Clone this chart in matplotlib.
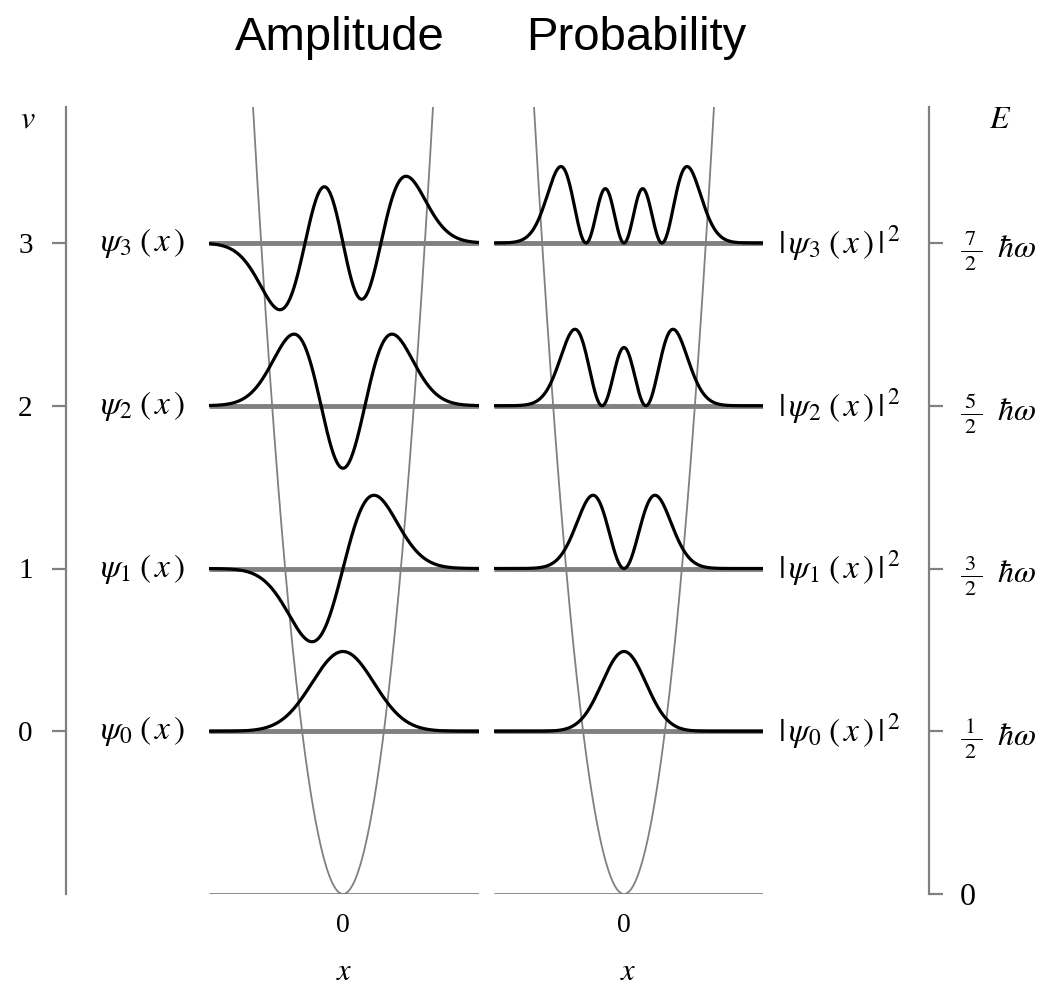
import numpy as np
import matplotlib
matplotlib.use("Agg")
import matplotlib.pyplot as plt
from matplotlib.transforms import blended_transform_factory
from numpy.polynomial.hermite import hermval

# quantum numbers and labels
levels = [0, 1, 2, 3]
energy_num = [1, 3, 5, 7]
# peak heights (in units of level spacing)
amp_peaks = [0.49, 0.45, 0.44, 0.41]
prob_peaks = [0.49, 0.45, 0.47, 0.47]
# parabola half-width at the first level (oscillator units)
well_width = 1.32

W, H = 1047, 989
GRAY = "#808080"
PX_X = 31.0      # pixels per oscillator unit
PX_Y = 162.75    # pixels per level
Y_BASE, Y_TOP = 894, 107

plt.rcParams["mathtext.fontset"] = "stix"
plt.rcParams["font.family"] = ["Liberation Serif", "DejaVu Serif"]


def box(x0, x1):
    return [x0 / W, 1 - Y_BASE / H, (x1 - x0) / W, (Y_BASE - Y_TOP) / H]


def psi(n, x):
    c = np.zeros(n + 1)
    c[n] = 1
    return hermval(x, c) * np.exp(-x ** 2 / 2)


def draw_panel(ax, squared, peaks):
    x0, x1 = ax.get_xlim()
    x = np.linspace(x0, x1, 600)
    ytop = ax.get_ylim()[1]
    xp = np.linspace(-well_width * np.sqrt(ytop), well_width * np.sqrt(ytop), 400)
    ax.plot(xp, (xp / well_width) ** 2, color=GRAY, lw=1.3, zorder=1)
    ax.hlines(0, x0, x1, color=GRAY, lw=2.0, zorder=2)
    for n, pk in zip(levels, peaks):
        f = psi(n, x)
        if squared:
            f = f ** 2
        f = f / np.abs(f).max() * pk
        ax.hlines(n + 1, x0, x1, color=GRAY, lw=3.5, zorder=2)
        ax.plot(x, n + 1 + f, color="black", lw=2.3, zorder=3)
    ax.set_xticks([0])
    ax.set_xticklabels(["0"], fontsize=20)
    ax.tick_params(axis="x", length=0, pad=14)
    ax.set_xlabel("$x$", fontsize=22, labelpad=14)
    ax.set_yticks([])
    for s in ax.spines.values():
        s.set_visible(False)
    ax.patch.set_alpha(0)


def main():
    fig = plt.figure(figsize=(W / 100, H / 100), dpi=100)
    ymax = (Y_BASE - Y_TOP) / PX_Y

    # frame with the v axis (left) and E axis (right)
    fr = fig.add_axes(box(66, 929))
    fr.set_ylim(0, ymax)
    fr.set_xticks([])
    for k in ["top", "bottom"]:
        fr.spines[k].set_visible(False)
    for k in ["left", "right"]:
        fr.spines[k].set_color(GRAY)
        fr.spines[k].set_linewidth(1.6)
    fr.set_yticks([v + 1 for v in levels])
    fr.set_yticklabels([str(v) for v in levels], fontsize=21)
    fr.tick_params(axis="y", direction="out", length=10, width=1.6,
                   color=GRAY, pad=14)

    rt = fr.twinx()
    rt.set_ylim(0, ymax)
    for s in rt.spines.values():
        s.set_visible(False)
    rt.set_yticks([0] + [v + 1 for v in levels])
    rt.set_yticklabels(["0"] + [r"$\frac{\;%d\;}{\;2\;}\;\;\hbar\omega$" % e
                                for e in energy_num], fontsize=23)
    rt.tick_params(axis="y", direction="out", length=10, width=1.6,
                   color=GRAY, pad=12)

    tr = blended_transform_factory(fr.transAxes, fr.transData)
    for v in levels:
        fr.text(0.089, v + 1, r"$\psi_{%d}\;(\,x\,)$" % v, transform=tr,
                ha="center", va="center", fontsize=24)
        fr.text(0.825, v + 1, r"$|\,\psi_{%d}\;(\,x\,)\,|^{\,2}$" % v, transform=tr,
                ha="left", va="center", fontsize=24)

    fig.text(28 / W, 1 - 120 / H, "$v$", ha="center", va="center", fontsize=23)
    fig.text(1000 / W, 1 - 120 / H, "$E$", ha="center", va="center", fontsize=23)

    amp = fig.add_axes(box(209, 479))
    amp.set_xlim(-(343 - 209) / PX_X, (479 - 343) / PX_X)
    amp.set_ylim(0, ymax)
    draw_panel(amp, False, amp_peaks)

    prob = fig.add_axes(box(494, 763))
    prob.set_xlim(-(624 - 494) / PX_X, (763 - 624) / PX_X)
    prob.set_ylim(0, ymax)
    draw_panel(prob, True, prob_peaks)

    fig.text(340 / W, 1 - 50 / H, "Amplitude", ha="center", va="baseline",
             fontsize=34, family="Liberation Sans")
    fig.text(636 / W, 1 - 50 / H, "Probability", ha="center", va="baseline",
             fontsize=34, family="Liberation Sans")

    fig.savefig("out.png", dpi=100)


if __name__ == "__main__":
    main()
